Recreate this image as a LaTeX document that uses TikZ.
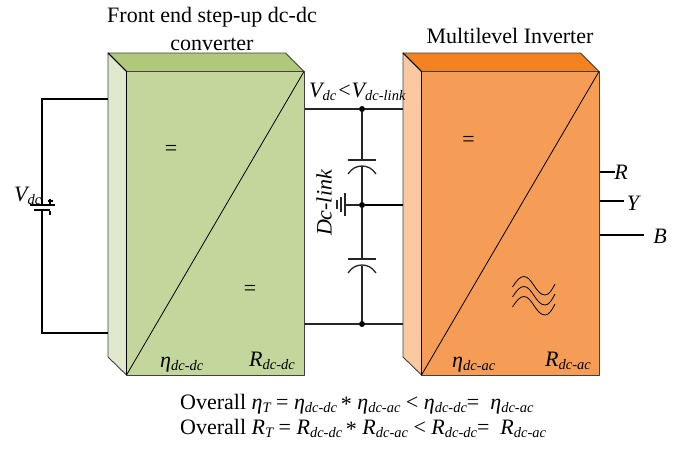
\documentclass[tikz,border=0pt]{standalone}
\usepackage{fontspec}
\setmainfont{Liberation Serif}
\newcommand{\fs}[1]{\fontsize{#1}{#1}\selectfont}
\newcommand{\lsub}[1]{\raisebox{-0.3ex}{\fs{14.5}\itshape #1}}
\tikzset{
  x=1pt,y=-1pt,
  boxedge/.style={draw=black!75,line width=0.9pt,line join=round},
  diag/.style={draw=black,line width=0.8pt},
  wire/.style={draw=black!85,line width=1.3pt},
  thick wire/.style={draw=black,line width=1.6pt},
  dot/.style={circle,fill=black,inner sep=0pt,minimum size=6pt},
  lab/.style={inner sep=0pt,font=\fs{22}},
  eqlab/.style={inner sep=0pt,font=\fs{22}},
  big/.style={inner sep=0pt,font=\fs{22}\itshape},
  line/.style={inner sep=0pt,anchor=base west,font=\fs{22}},
}
\definecolor{gfront}{HTML}{C3D69B}
\definecolor{gtop}{HTML}{AFC87A}
\definecolor{gleft}{HTML}{E0E9CD}
\definecolor{ofront}{HTML}{F59D56}
\definecolor{otop}{HTML}{F58220}
\definecolor{oleft}{HTML}{FBC9A0}
\begin{document}
\begin{tikzpicture}
\useasboundingbox (0,0) rectangle (692,448);
\foreach \dx/\f/\t/\l in {0/gfront/gtop/gleft,295/ofront/otop/oleft}{
  \begin{scope}[xshift=\dx pt]
  \filldraw[boxedge,fill=\t] (108,53) -- (285.5,53) -- (304,71.5) -- (126.5,71.5) -- cycle;
  \filldraw[boxedge,fill=\l] (108,53) -- (126.5,71.5) -- (126.5,375) -- (108,357) -- cycle;
  \filldraw[boxedge,fill=\f] (126.5,71.5) rectangle (304.5,375);
  \draw[diag] (304,71.5) -- (126.5,375);
  \draw[diag] (108,53) -- (126.5,71.5) -- (126.5,375);
  \end{scope}
}
% named terminals
\coordinate (gin1) at (108,99);
\coordinate (gin2) at (108,333);
\coordinate (cor1) at (42,99);
\coordinate (cor2) at (42,333);
\coordinate (bat1) at (42,205);
\coordinate (bat2) at (42,210);
\coordinate (gout1) at (304.5,109);
\coordinate (gout2) at (304.5,324);
\coordinate (oin1) at (403,109);
\coordinate (oin2) at (403,205);
\coordinate (oin3) at (403,324);
\node[dot] (d1) at (362,109) {};
\node[dot] (d2) at (362,205) {};
\node[dot] (d3) at (362,324) {};
\coordinate (gnd) at (345,205);
% source
\draw[thick wire] (gin1) -- (cor1) -- (bat1);
\draw[thick wire] (bat2) -- (cor2) -- (gin2);
\draw[thick wire] (30,205) -- (55,205);
\draw[thick wire] (34,210) -- (50,210);
\draw[black,line width=1.3pt] (47.5,201) -- (52.5,201) (50,198.5) -- (50,203.5);
\draw[black,line width=1.3pt] (50,211) -- (50,215);
% dc link
\draw[wire] (gout1) -- (d1) -- (oin1);
\draw[wire] (gout2) -- (d3) -- (oin3);
\draw[thick wire] (d2) -- (oin2);
\draw[wire] (gnd) -- (d2);
\draw[wire] (d1) -- (362,160);
\draw[wire] (362,166) -- (d2) -- (362,259);
\draw[wire] (362,266) -- (d3);
\foreach \y in {160,259}{
  \draw[wire] (348,\y) -- (376,\y);
  \draw[wire] (348,\y+14) .. controls (352,\y+8) and (357,\y+6) .. (362,\y+6)
     .. controls (367,\y+6) and (372,\y+8) .. (376,\y+14);
}
\draw[wire] (345,193) -- (345,216);
\draw[wire] (341,197) -- (341,212);
\draw[wire] (337,200) -- (337,209);
% outputs
\coordinate (r0) at (599.5,172);
\coordinate (y0) at (599.5,201);
\coordinate (b0) at (599.5,235);
\coordinate (r1) at (615,172);
\coordinate (y1) at (624,201);
\coordinate (b1) at (644,235);
\draw[thick wire] (r0) -- (r1);
\draw[thick wire] (y0) -- (y1);
\draw[thick wire] (b0) -- (b1);
% waves
\foreach \s in {0,10,20}{
  \draw[diag,yshift=\s pt] (512.5,307) .. controls (517,300) and (520,296.5) .. (524,296.5)
    .. controls (532,296.5) and (536,315) .. (545,315) .. controls (549,315) and (552,310) .. (555,304);
}
% labels
\node[lab] (t1) at (212,17) {Front end step-up dc-dc};
\node[lab] (t2) at (212,44) {converter};
\node[lab] (t3) at (510,36) {Multilevel Inverter};
\node[eqlab] (e1) at (171,150) {=};
\node[eqlab] (e2) at (250,290) {=};
\node[eqlab] (e3) at (468.5,141) {=};
\node[big,anchor=base west] (v) at (14,201) {V\lsub{dc}};
\node[big,anchor=base west] (v2) at (309,97) {V\lsub{dc}\kern2pt{\normalfont<}\kern1pt V\lsub{dc-link}};
\node[big,rotate=90] (dl) at (324,203) {Dc-link};
\node[big] (R) at (621,172) {R};
\node[big] (Y) at (633,203) {Y};
\node[big] (B) at (660,236) {B};
\node[big,anchor=base west] (n1) at (160,367) {η\lsub{dc-dc}};
\node[big,anchor=base west] (n2) at (249,366) {R\lsub{dc-dc}};
\node[big,anchor=base west] (n3) at (452,367) {η\lsub{dc-ac}};
\node[big,anchor=base west] (n4) at (545,366) {R\lsub{dc-ac}};
\node[line] (o1) at (180,409) {Overall \textit{η\lsub{T}} = \textit{η\lsub{dc-dc}}\,\raisebox{-0.2ex}{*} \textit{η\lsub{dc-ac}} < \textit{η\lsub{dc-dc}}=\ \ \textit{η\lsub{dc-ac}}};
\node[line] (o2) at (180,434) {Overall \textit{R\lsub{T}} = \textit{R\lsub{dc-dc}}\,\raisebox{-0.2ex}{*} \textit{R\lsub{dc-ac}} < \textit{R\lsub{dc-dc}}=\ \ \textit{R\lsub{dc-ac}}};
\end{tikzpicture}
\end{document}
